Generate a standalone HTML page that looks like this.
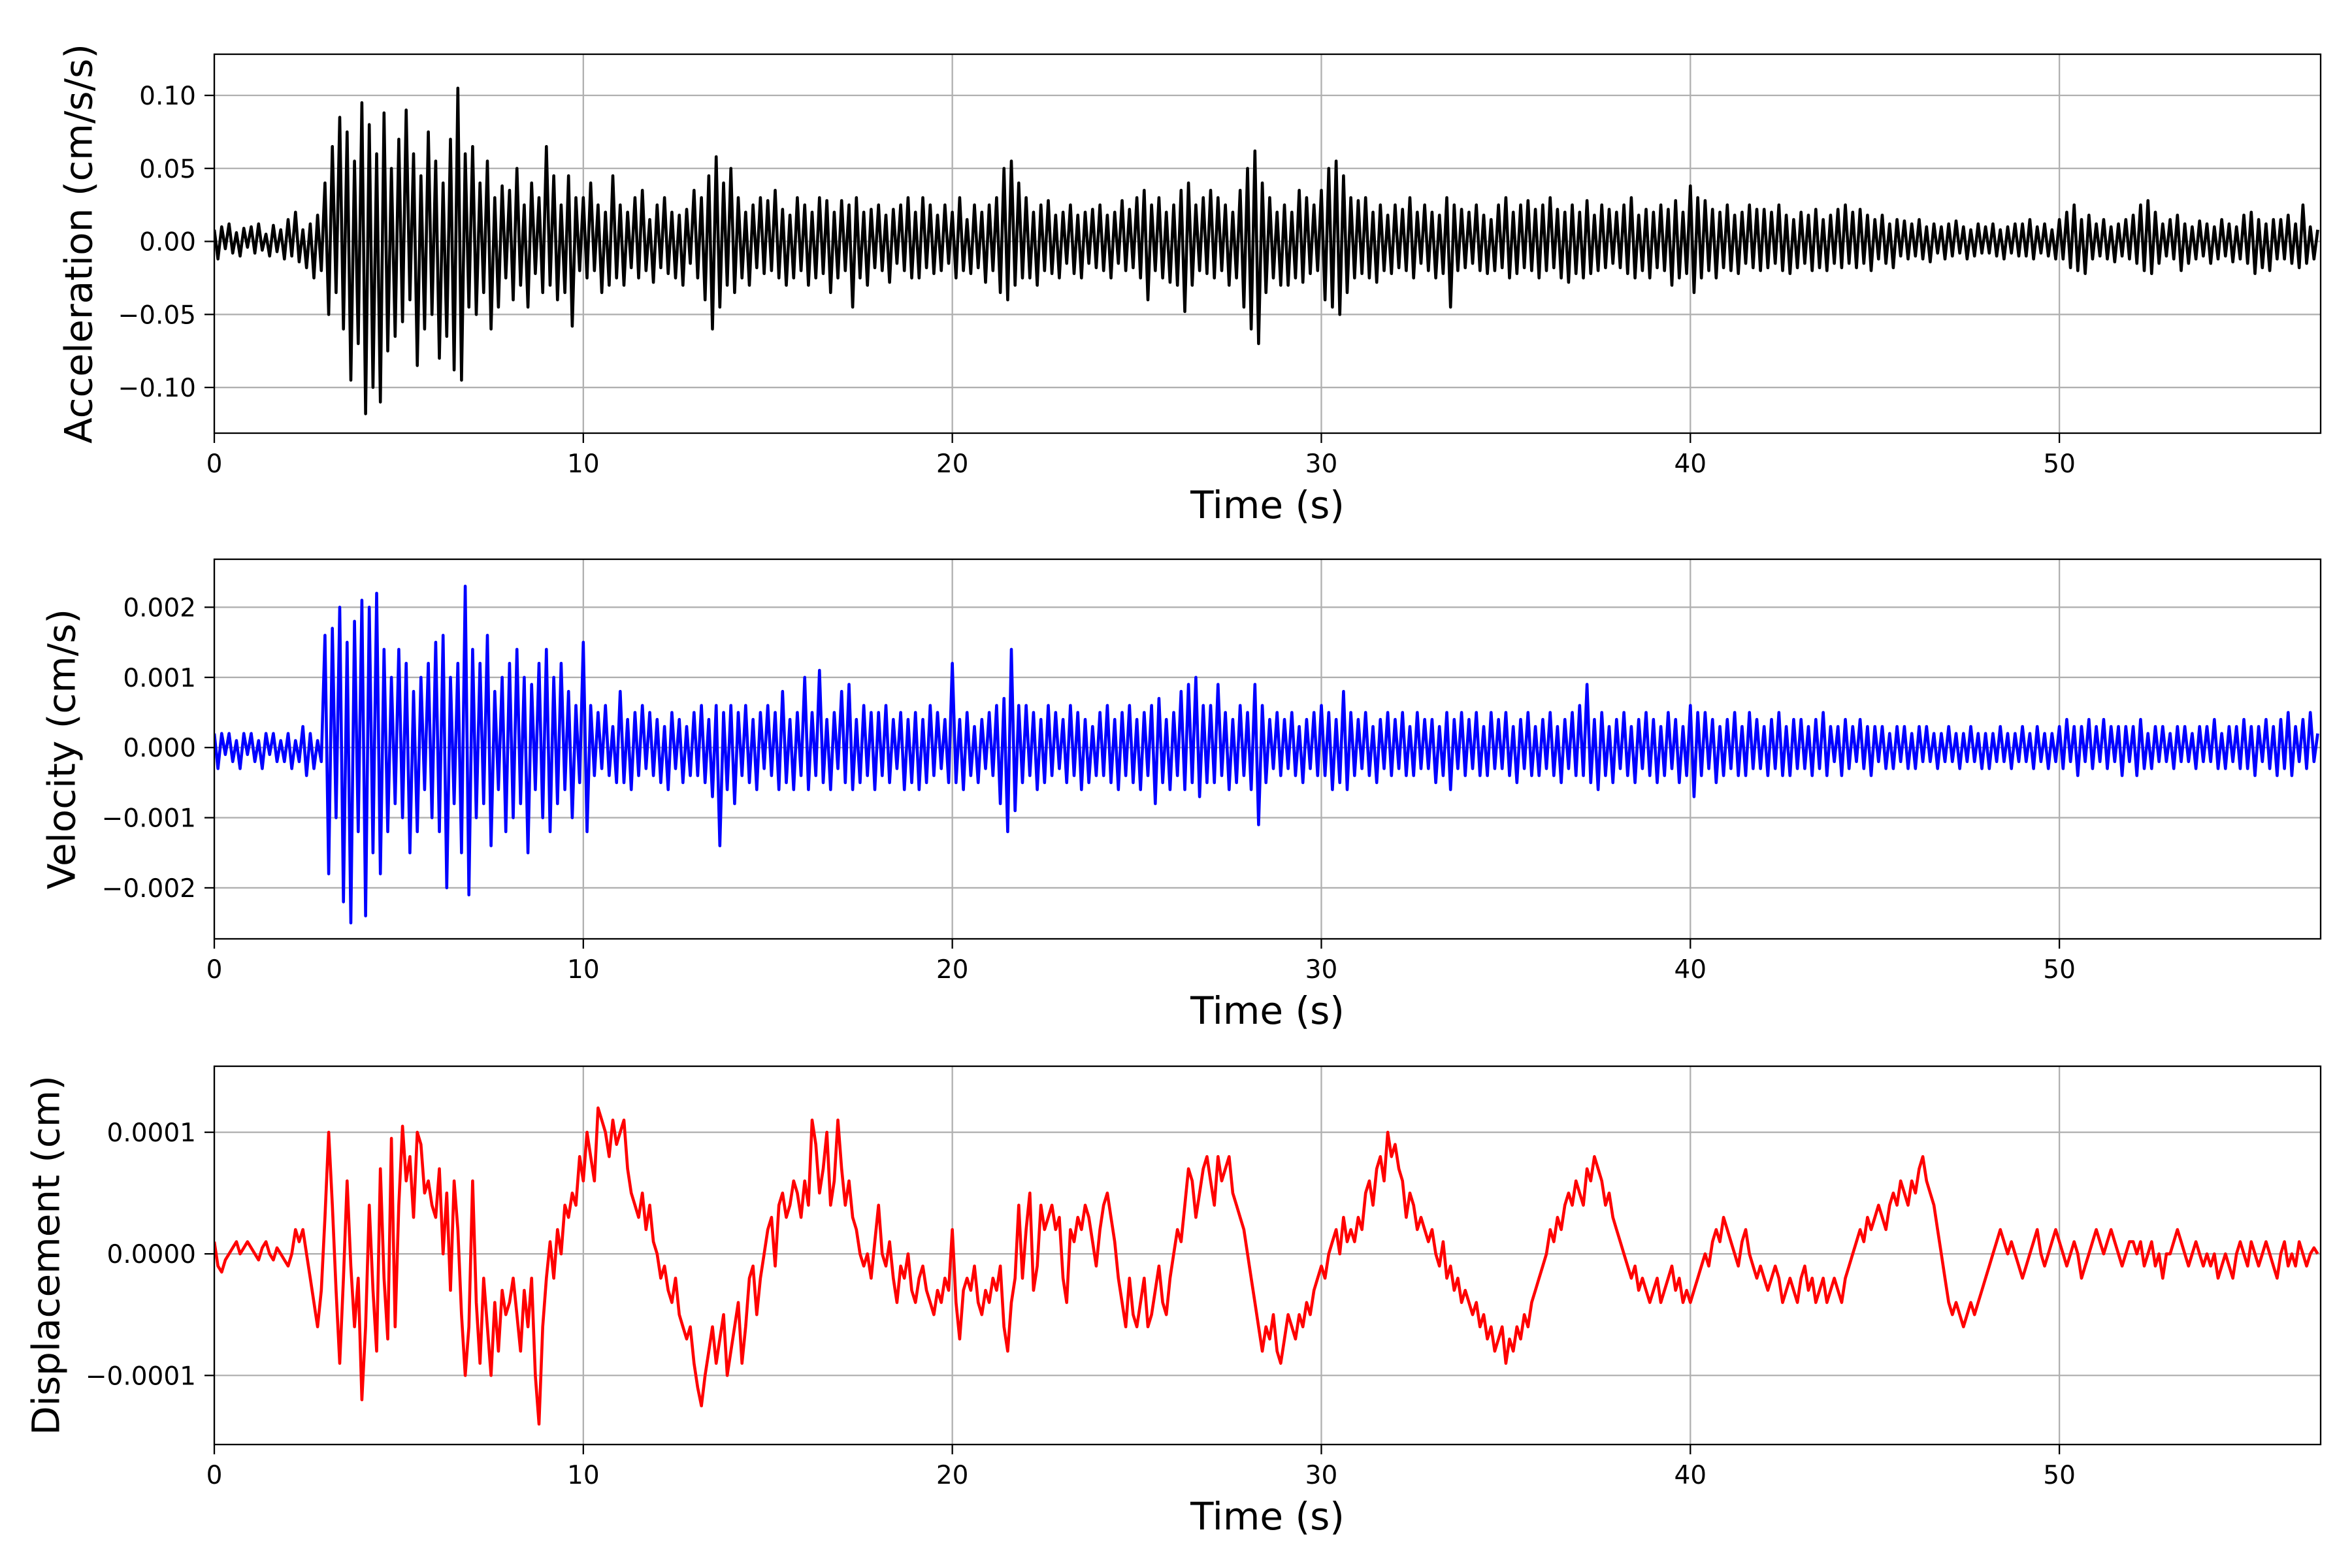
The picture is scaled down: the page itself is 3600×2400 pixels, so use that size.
<!DOCTYPE html>
<html><head><meta charset="utf-8">
<style>
html,body{margin:0;padding:0;background:#fff;}
svg{display:block;font-family:"DejaVu Sans","Liberation Sans",sans-serif;}
</style></head>
<body>
<svg id="fig" width="3600" height="2400" viewBox="0 0 3600 2400" xmlns="http://www.w3.org/2000/svg"></svg>
<script>
const dt = 0.1;
// Acceleration samples in units of 0.001 cm/s/s
const accelValues = [
8,-12,10,-5,12,-8,6,-10,9,-4,
10,-8,12,-6,5,-10,11,-7,8,-12,
15,-10,20,-14,8,-18,12,-25,18,-20,
40,-50,65,-35,85,-60,75,-95,55,-70,
95,-118,80,-100,60,-110,88,-75,50,-65,
70,-55,90,-40,60,-85,45,-60,75,-50,
55,-80,40,-65,70,-88,105,-95,60,-45,
65,-50,40,-35,55,-60,30,-45,38,-25,
35,-40,50,-30,25,-45,40,-22,30,-35,
65,-30,45,-40,25,-35,45,-58,30,-20,
30,-25,40,-20,25,-35,20,-30,45,-25,
25,-30,20,-18,30,-25,35,-20,15,-28,
25,-18,30,-22,20,-25,18,-30,22,-15,
35,-25,30,-40,45,-60,58,-45,40,-30,
50,-35,30,-25,20,-30,25,-18,30,-22,
28,-20,35,-25,22,-30,18,-25,30,-20,
25,-30,20,-25,30,-22,28,-35,20,-25,
28,-20,25,-45,30,-25,20,-30,22,-18,
25,-20,18,-28,22,-15,25,-20,30,-25,
20,-25,30,-18,25,-22,18,-20,25,-15,
20,-25,30,-20,15,-22,25,-18,20,-28,
25,-20,30,-35,50,-40,55,-30,40,-25,
30,-25,20,-30,25,-20,28,-22,18,-25,
20,-15,25,-22,18,-25,20,-15,22,-18,
25,-20,18,-25,20,-15,28,-20,22,-18,
30,-25,35,-40,25,-20,30,-25,20,-28,
25,-30,35,-48,40,-30,25,-20,30,-22,
35,-25,30,-20,25,-30,20,-25,35,-45,
50,-60,62,-70,40,-35,30,-25,20,-30,
25,-30,20,-25,35,-28,30,-22,25,-20,
35,-40,50,-45,55,-50,45,-35,30,-25,
28,-22,30,-25,20,-28,25,-20,18,-22,
25,-18,22,-20,30,-25,20,-15,25,-20,
20,-25,18,-22,30,-45,25,-20,22,-18,
20,-15,25,-20,18,-22,15,-20,25,-18,
30,-25,20,-22,25,-18,28,-20,22,-25,
25,-20,30,-18,22,-25,20,-28,25,-22,
20,-25,28,-22,18,-20,25,-18,22,-15,
20,-18,25,-22,30,-25,18,-20,22,-25,
20,-18,25,-20,22,-30,28,-25,20,-22,
38,-35,30,-25,28,-20,22,-25,20,-18,
25,-20,18,-22,20,-15,25,-18,22,-20,
22,-18,20,-15,25,-20,18,-22,15,-18,
20,-15,18,-20,22,-18,15,-20,18,-15,
22,-18,25,-15,20,-18,22,-15,18,-20,
15,-12,18,-15,12,-18,15,-10,14,-12,
12,-10,15,-12,10,-14,12,-8,10,-12,
12,-10,14,-8,10,-12,8,-10,12,-8,
10,-8,12,-10,8,-12,10,-8,12,-10,
12,-10,15,-12,10,-8,12,-10,8,-12,
15,-12,20,-18,25,-20,15,-22,18,-12,
12,-10,15,-12,10,-14,12,-10,15,-12,
18,-15,25,-20,28,-22,20,-15,12,-10,
15,-12,18,-20,12,-15,10,-12,14,-10,
12,-15,10,-12,15,-10,12,-14,10,-12,
18,-15,20,-22,15,-18,12,-20,15,-12,
15,-12,18,-15,12,-18,25,-15,10,-12,
8];
// Velocity samples in units of 1e-4 cm/s
const velValues = [
2,-3,2,-1,2,-2,1,-3,2,-1,
2,-2,1,-3,2,-1,2,-2,1,-2,
2,-3,1,-2,3,-4,2,-3,1,-2,
16,-18,17,-10,20,-22,15,-25,18,-12,
21,-24,20,-15,22,-18,14,-12,10,-8,
14,-10,12,-15,8,-12,10,-6,12,-10,
15,-12,16,-20,10,-8,12,-15,23,-21,
14,-10,12,-8,16,-14,8,-6,10,-12,
12,-10,14,-8,10,-15,9,-6,12,-10,
14,-12,10,-8,12,-6,8,-10,6,-5,
15,-12,6,-4,5,-3,6,-4,3,-5,
8,-5,4,-6,5,-4,6,-3,5,-4,
4,-5,3,-6,5,-3,4,-5,3,-4,
5,-4,6,-5,4,-7,6,-14,5,-6,
6,-8,5,-4,6,-5,4,-6,5,-3,
6,-4,5,-6,8,-5,4,-6,5,-4,
10,-6,5,-4,11,-5,4,-6,5,-3,
8,-5,9,-6,4,-5,6,-4,5,-6,
5,-4,6,-5,4,-3,5,-6,4,-5,
5,-6,4,-5,6,-4,5,-3,4,-5,
12,-5,4,-6,5,-4,3,-5,4,-3,
5,-4,6,-8,7,-12,14,-9,6,-5,
6,-4,5,-6,4,-5,6,-4,5,-3,
4,-5,6,-4,5,-6,4,-5,3,-4,
5,-4,6,-5,4,-6,5,-4,6,-5,
4,-6,5,-4,6,-8,7,-5,4,-6,
5,-4,8,-6,9,-5,10,-7,6,-5,
6,-5,9,-4,5,-6,4,-5,6,-4,
5,-6,9,-11,6,-5,4,-3,5,-4,
4,-3,5,-4,3,-5,4,-3,5,-4,
6,-4,5,-6,4,-5,8,-6,5,-4,
4,-3,5,-4,3,-5,4,-3,5,-4,
4,-3,5,-4,3,-4,5,-3,4,-3,
4,-5,3,-4,5,-6,4,-3,5,-4,
4,-3,5,-4,3,-4,5,-3,4,-3,
5,-4,3,-5,4,-3,5,-4,3,-4,
4,-3,5,-4,3,-5,4,-3,5,-4,
6,-4,9,-5,4,-6,5,-4,3,-5,
4,-3,5,-4,3,-5,4,-3,5,-4,
4,-5,3,-4,5,-3,4,-5,3,-4,
6,-7,5,-4,5,-3,4,-5,3,-4,
4,-3,5,-4,3,-4,5,-3,4,-3,
3,-4,4,-3,5,-4,3,-4,4,-3,
4,-3,3,-4,4,-3,5,-4,3,-2,
3,-4,4,-3,3,-2,4,-3,3,-4,
3,-2,3,-3,2,-3,3,-2,3,-3,
2,-3,3,-2,3,-2,2,-3,2,-2,
3,-2,2,-3,2,-2,3,-2,2,-3,
2,-3,2,-2,3,-2,2,-3,2,-2,
3,-2,2,-3,3,-2,2,-3,2,-2,
3,-3,4,-2,3,-4,3,-2,4,-3,
3,-2,4,-3,3,-2,3,-4,3,-2,
3,-4,4,-3,2,-3,3,-2,3,-2,
2,-3,3,-2,3,-2,2,-3,3,-2,
3,-2,4,-3,2,-3,3,-2,3,-3,
4,-3,3,-4,3,-2,4,-3,3,-4,
4,-3,5,-4,3,-2,4,-3,5,-2,
2];
// Displacement samples in units of 1e-6 cm
const dispValues = [
10,-10,-15,-5,0,5,10,0,5,10,
5,0,-5,5,10,0,-5,5,0,-5,
-10,0,20,10,20,0,-20,-40,-60,-30,
30,100,40,-30,-90,-20,60,-10,-60,-20,
-120,-60,40,-30,-80,70,-20,-70,95,-60,
40,105,60,80,30,100,90,50,60,40,
30,70,0,50,-30,60,20,-50,-100,-60,
60,-40,-90,-20,-60,-100,-40,-80,-30,-50,
-40,-20,-50,-80,-30,-60,-20,-100,-140,-60,
-20,10,-20,20,0,40,30,50,40,80,
60,100,80,60,120,110,100,80,110,90,
100,110,70,50,40,30,50,20,40,10,
0,-20,-10,-30,-40,-20,-50,-60,-70,-60,
-90,-110,-125,-100,-80,-60,-90,-70,-50,-100,
-80,-60,-40,-90,-60,-20,-10,-50,-20,0,
20,30,-10,40,50,30,40,60,50,30,
60,40,110,90,50,70,100,40,60,110,
70,40,60,30,20,0,-10,0,-20,10,
40,0,-10,10,-20,-40,-10,-20,0,-30,
-40,-20,-10,-30,-40,-50,-30,-40,-20,-30,
20,-40,-70,-30,-20,-30,-10,-40,-50,-30,
-40,-20,-30,-10,-60,-80,-40,-20,40,-20,
20,50,-30,-10,40,20,30,40,20,30,
-20,-40,20,10,30,20,40,30,10,-10,
20,40,50,30,10,-20,-40,-60,-20,-50,
-60,-40,-20,-60,-50,-30,-10,-40,-50,-20,
0,20,10,40,70,60,30,50,70,80,
60,40,80,60,70,80,50,40,30,20,
0,-20,-40,-60,-80,-60,-70,-50,-80,-90,
-70,-50,-60,-70,-50,-60,-40,-50,-30,-20,
-10,-20,0,10,20,0,30,10,20,10,
30,20,50,60,40,70,80,60,100,80,
90,70,60,30,50,40,20,30,20,10,
20,0,-10,10,-20,-10,-30,-20,-40,-30,
-40,-50,-40,-60,-50,-70,-60,-80,-70,-60,
-90,-70,-80,-60,-70,-50,-60,-40,-30,-20,
-10,0,20,10,30,20,40,50,40,60,
50,40,70,60,80,70,60,40,50,30,
20,10,0,-10,-20,-10,-30,-20,-30,-40,
-30,-20,-40,-30,-20,-10,-30,-20,-40,-30,
-40,-30,-20,-10,0,-10,10,20,10,30,
20,10,0,-10,10,20,0,-10,-20,-10,
-20,-30,-20,-10,-20,-40,-30,-20,-30,-40,
-20,-10,-30,-20,-40,-30,-20,-40,-30,-20,
-30,-40,-20,-10,0,10,20,10,30,20,
30,40,30,20,40,50,40,60,50,40,
60,50,70,80,60,50,40,20,0,-20,
-40,-50,-40,-50,-60,-50,-40,-50,-40,-30,
-20,-10,0,10,20,10,0,10,0,-10,
-20,-10,0,10,20,0,-10,0,10,20,
10,0,-10,0,10,0,-20,-10,0,10,
20,10,0,10,20,10,0,-10,0,10,
10,0,10,-10,0,10,-10,0,-20,0,
0,10,20,10,0,-10,0,10,0,-10,
0,-10,0,-20,-10,0,-10,-20,0,10,
0,-10,10,0,-10,0,10,0,-10,-20,
0,10,-10,0,-10,10,0,-10,0,5,
0];
const xTicks = [0,10,20,30,40,50];
const accelTicks = [0.10,0.05,0.00,-0.05,-0.10];
const accelTickLabels = ["0.10","0.05","0.00","\u22120.05","\u22120.10"];
const velTicks = [0.002,0.001,0,-0.001,-0.002];
const velTickLabels = ["0.002","0.001","0.000","\u22120.001","\u22120.002"];
const dispTicks = [0.0001,0,-0.0001];
const dispTickLabels = ["0.0001","0.0000","\u22120.0001"];

const NS = "http://www.w3.org/2000/svg";
const svg = document.getElementById("fig");
function mk(tag, attrs, parent){
  const e = document.createElementNS(NS, tag);
  for (const k in attrs) e.setAttribute(k, attrs[k]);
  parent.appendChild(e);
  return e;
}
const X0 = 328, X1 = 3552, XMIN = 0, XMAX = 57.08;
function xs(t){ return X0 + (t - XMIN) / (XMAX - XMIN) * (X1 - X0); }

function panel(name, top, bottom, ymin, ymax, values, scale, color, ticks, tickLabels, ylabel, ylabelX, lw){
  const g = mk("g", {}, svg);
  
  
  const ys = v => bottom - (v - ymin) / (ymax - ymin) * (bottom - top);
  xTicks.forEach(t => {
    const l = mk("line", {x1: xs(t), x2: xs(t), y1: top, y2: bottom, stroke: "#b0b0b0", "stroke-width": 2.3}, g);
    
    
  });
  ticks.forEach(v => {
    const l = mk("line", {x1: X0, x2: X1, y1: ys(v), y2: ys(v), stroke: "#b0b0b0", "stroke-width": 2.3}, g);
    
    
  });
  let d = "";
  values.forEach((v, i) => {
    d += (i ? "L" : "M") + xs(i * dt).toFixed(1) + " " + ys(v * scale).toFixed(1);
  });
  const clipId = "clip-" + name;
  const cp = mk("clipPath", {id: clipId}, g);
  mk("rect", {x: X0, y: top, width: X1 - X0, height: bottom - top}, cp);
  const p = mk("path", {d: d, fill: "none", stroke: color, "stroke-width": lw, "stroke-linejoin": "round", "clip-path": "url(#" + clipId + ")"}, g);
  
  
  const fr = mk("rect", {x: X0, y: top, width: X1 - X0, height: bottom - top, fill: "none", stroke: "#000", "stroke-width": 2.3}, g);
  
  
  xTicks.forEach(t => {
    mk("line", {x1: xs(t), x2: xs(t), y1: bottom, y2: bottom + 15, stroke: "#000", "stroke-width": 2.3}, g);
    const tx = mk("text", {x: xs(t), y: bottom + 60, "font-size": 39, "text-anchor": "middle", fill: "#000"}, g);
    tx.textContent = String(t);
    
    
  });
  ticks.forEach((v, i) => {
    mk("line", {x1: X0 - 15, x2: X0, y1: ys(v), y2: ys(v), stroke: "#000", "stroke-width": 2.3}, g);
    const tx = mk("text", {x: X0 - 28, y: ys(v) + 14, "font-size": 39, "text-anchor": "end", fill: "#000"}, g);
    tx.textContent = tickLabels[i];
    
    
  });
  const xl = mk("text", {x: (X0 + X1) / 2, y: bottom + 130, "font-size": 58, "text-anchor": "middle", fill: "#000"}, g);
  xl.textContent = "Time (s)";
  
  
  const cy = (top + bottom) / 2;
  const yl = mk("text", {x: ylabelX, y: cy, "font-size": 58, "text-anchor": "middle", fill: "#000", transform: "rotate(-90 " + ylabelX + " " + cy + ")", dy: "0.35em"}, g);
  yl.textContent = ylabel;
  
  
}
panel("acceleration", 83, 663, -0.1313, 0.1282, accelValues, 0.001, "#000", accelTicks, accelTickLabels, "Acceleration (cm/s/s)", 120, 4.6);
panel("velocity", 856, 1437, -0.002727, 0.002684, velValues, 0.0001, "#0000ff", velTicks, velTickLabels, "Velocity (cm/s)", 94, 4.6);
panel("displacement", 1632, 2211, -0.0001568, 0.0001543, dispValues, 0.000001, "#ff0000", dispTicks, dispTickLabels, "Displacement (cm)", 70, 4.6);
</script>
</body></html>
